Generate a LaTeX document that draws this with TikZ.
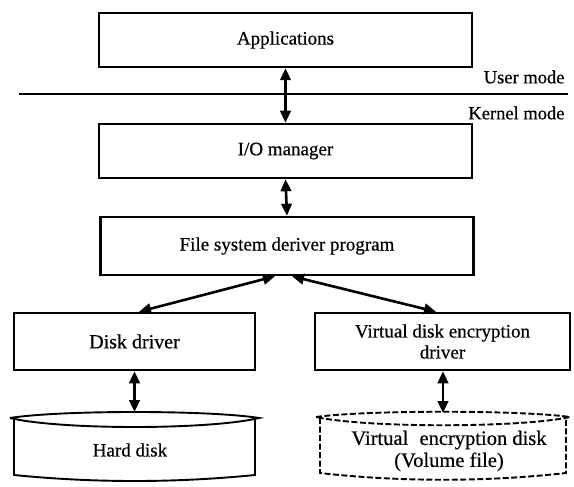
\documentclass[tikz,border=0pt]{standalone}
\usepackage{fontspec}
\setmainfont{Liberation Serif}[FakeBold=0.5]
\usepackage{tikz}
\usetikzlibrary{arrows.meta}
\usetikzlibrary{calc}

\begin{document}
\begin{tikzpicture}[
    x=1pt, y=-1pt,
    font=\fontsize{19}{21}\selectfont,
    layer/.style={draw, line width=2.5pt, inner sep=0pt, align=center},
    link/.style={{Triangle[length=12pt,width=10.5pt]}-{Triangle[length=12pt,width=10.5pt]}, line width=2.6pt},
    disk/.style={line width=1.9pt}]

    \useasboundingbox (0, 0) rectangle (574, 487);

    \node [layer, minimum width=373pt, minimum height=54pt] (apps)
    at (285.5, 40) {Applications};
    \node [layer, minimum width=373pt, minimum height=54pt] (iomgr)
    at (285.5, 151) {I/O manager};
    \node [layer, minimum width=373pt, minimum height=58pt] (fsdrv)
    at (287, 246) {File system deriver program};
    \node [layer, minimum width=241pt, minimum height=57pt, font=\fontsize{20}{22}\selectfont] (diskdrv)
    at (134.5, 341.5) {Disk driver};
    \node [layer, minimum width=255pt, minimum height=57pt] (vdedrv)
    at (442.5, 341.5) {Virtual disk encryption\\driver};

    \draw [line width=2pt] (19, 94) coordinate (sepl) -- (568, 94) coordinate (sepr);
    \node [anchor=east, font=\fontsize{18.5}{20}\selectfont] (user) at (568, 77) {User mode};
    \node [anchor=east, font=\fontsize{18.5}{20}\selectfont] (kernel) at (568, 113) {Kernel mode};

    \draw [disk] (10, 418) .. controls (60, 410) and (209, 410) .. (259, 418)
    .. controls (209, 430) and (60, 430) .. (10, 418);
    \draw [disk] (14, 419) -- (14, 475)
    .. controls (94, 483) and (175, 483) .. (255, 475) -- (255, 419);
    \coordinate (hdtop) at (134.5, 412);
    \node (hdisk) at (130, 450) {Hard disk};

    \draw [disk, dashed, dash pattern=on 6pt off 2.5pt] (316, 417)
    .. controls (366, 410) and (520, 410) .. (570, 417)
    .. controls (520, 428) and (366, 428) .. (316, 417);
    \draw [disk, dashed, dash pattern=on 6pt off 2.5pt] (320, 418) -- (320, 473)
    .. controls (400, 482) and (486, 482) .. (566, 473) -- (566, 418);
    \coordinate (vdtop) at (443, 413);
    \node [align=center, font=\fontsize{20.5}{22}\selectfont] (vdisk) at (449, 451)
    {Virtual\hspace{0.55em}encryption disk\\(Volume file)};

    \draw [link] (apps.south) -- (iomgr.north);
    \draw [link] (iomgr.south) -- (fsdrv.north);
    \draw [link] ([xshift=-12pt]fsdrv.south) -- ([xshift=4.5pt]diskdrv.north);
    \draw [link] ([xshift=5pt]fsdrv.south) -- ([xshift=-6.5pt]vdedrv.north);
    \draw [link] (diskdrv.south) -- (hdtop);
    \draw [link] ([xshift=0.5pt]vdedrv.south) -- (vdtop);

  \end{tikzpicture}
\end{document}
